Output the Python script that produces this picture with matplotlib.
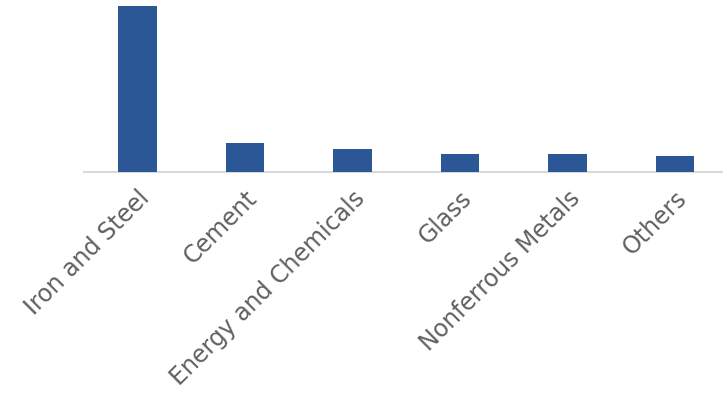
import matplotlib
matplotlib.use("Agg")
import matplotlib.pyplot as plt

categories = ["Iron and Steel", "Cement", "Energy and Chemicals", "Glass",
              "Nonferrous Metals", "Others"]
values = [166, 29, 23, 18, 18, 16]

fig = plt.figure(figsize=(7.23, 3.94), dpi=100)
W, H = 723, 394
left = 83.75 / W
width = 645 / W
bottom = (H - 172) / H
height = 172 / H
ax = fig.add_axes([left, bottom, width, height])

x = list(range(len(categories)))
ax.bar(x, values, width=0.355, color="#2b5797", zorder=3)
ax.set_xlim(-0.5, len(categories) - 0.5)
ax.set_ylim(0, 172)

for s in ["top", "right", "left"]:
    ax.spines[s].set_visible(False)
ax.spines["bottom"].set_color("#d9d9d9")
ax.spines["bottom"].set_linewidth(1.5)
ax.set_yticks([])
ax.set_xticks(x)
ax.set_xticklabels(categories, rotation=45, ha="right", rotation_mode="anchor",
                   fontsize=17, color="#606060", family="DejaVu Sans")
ax.tick_params(axis="x", length=0, pad=10)

fig.savefig("out.png", dpi=100)
